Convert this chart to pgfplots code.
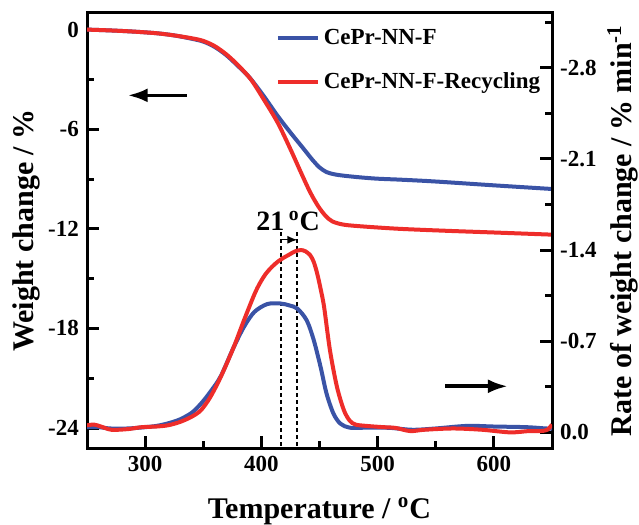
\documentclass[border=0pt]{standalone}
\usepackage{fontspec}
\setmainfont{Liberation Serif}
\usepackage{pgfplots}
\pgfplotsset{compat=1.18}
\usetikzlibrary{arrows.meta}

\definecolor{tgblue}{RGB}{58,83,166}
\definecolor{tgred}{RGB}{238,45,42}

% TG curves (left axis)
\pgfplotstableread{
T w
250 0
270 -0.05
290 -0.12
310 -0.22
325 -0.35
340 -0.55
350 -0.72
360 -1.05
370 -1.55
380 -2.2
390 -2.9
402 -4.0
414 -5.2
425 -6.2
436 -7.15
444 -7.85
450 -8.3
456 -8.58
463 -8.72
471 -8.8
485 -8.9
500 -8.98
520 -9.04
550 -9.15
600 -9.38
650 -9.6
}\tgA
\pgfplotstableread{
T w
250 0
270 -0.05
290 -0.12
310 -0.22
325 -0.35
340 -0.52
350 -0.68
360 -1.0
370 -1.5
380 -2.15
391 -3.0
402 -4.2
414 -5.6
425 -7.2
434 -8.6
442 -9.8
449 -10.65
455 -11.2
461 -11.55
471 -11.75
488 -11.86
519 -12.0
560 -12.12
600 -12.22
650 -12.35
}\tgB
% DTG curves (right axis)
\pgfplotstableread{
T r
250 -0.04
260 -0.04
270 -0.03
285 -0.03
300 -0.04
310 -0.05
320 -0.07
330 -0.10
340 -0.15
348 -0.22
356 -0.31
365 -0.43
376 -0.65
385 -0.81
394 -0.925
405 -0.985
416 -0.99
424 -0.975
431 -0.95
439 -0.86
445 -0.71
451 -0.50
456 -0.30
462 -0.144
468 -0.067
476 -0.036
490 -0.036
510 -0.035
530 -0.02
550 -0.03
577 -0.05
600 -0.045
628 -0.04
645 -0.03
650 -0.03
}\dtgA
\pgfplotstableread{
T r
250 -0.054
256 -0.06
262 -0.045
271 -0.02
285 -0.025
297 -0.04
310 -0.045
320 -0.055
330 -0.08
340 -0.12
348 -0.17
356 -0.27
365 -0.425
376 -0.65
385 -0.86
394 -1.06
399 -1.15
404 -1.22
409 -1.27
414 -1.31
419 -1.34
424 -1.365
429 -1.39
434 -1.40
438 -1.39
442 -1.36
445 -1.31
448 -1.22
451 -1.10
454 -0.96
459 -0.63
465 -0.35
471 -0.17
476 -0.09
481 -0.06
490 -0.05
505 -0.04
515 -0.035
528 -0.01
540 -0.02
565 -0.03
590 -0.02
614 0.0
630 -0.01
640 -0.01
646 -0.02
650 -0.06
}\dtgB

\begin{document}
\begin{tikzpicture}
\pgfplotsset{
  every axis/.append style={
    scale only axis,
    width=232.5pt, height=217.5pt,
    xmin=250, xmax=650,
    line width=1.5pt,
    tick align=inside,
    major tick length=6pt,
    minor tick length=3.5pt,
    tick style={line width=1.5pt, black},
    tick label style={font=\fontsize{11.5}{13}\selectfont\bfseries},
    label style={font=\fontsize{15}{17}\selectfont\bfseries, inner sep=0pt},
    /pgf/number format/assume math mode=true,
  },
}
\begin{axis}[
  name=ax,
  ymin=-25.2, ymax=1.0,
  xtick={300,400,500,600},
  minor xtick={350,450,550},
  ytick={-24,-18,-12,-6,0},
  minor ytick={-21,-15,-9,-3},
  xtick pos=bottom,
  ytick pos=left,
  xlabel={Temperature / \textsuperscript{o}C},
  xlabel style={at={(axis description cs:0.5,-0.161)}, anchor=base},
  ylabel={Weight change / \%},
  ylabel style={at={(axis description cs:-0.131,0.5)}, anchor=center},
  legend style={draw=none, fill=none, at={(0.39,0.985)}, anchor=north west,
    font=\fontsize{11.5}{13}\selectfont\bfseries, row sep=8.5pt},
  legend cell align=left,
  legend image code/.code={\draw[#1] (0pt,0pt) -- (20pt,0pt);},
]
\addplot[tgblue, line width=2pt, smooth] table[x=T, y=w] {\tgA};
\addlegendentry{CePr-NN-F}
\addplot[tgred, line width=2pt, smooth] table[x=T, y=w] {\tgB};
\addlegendentry{CePr-NN-F-Recycling}
% annotations
\draw[line width=1.8pt, -{Latex[length=10pt, width=7pt]}] (axis cs:336,-3.96) -- (axis cs:285,-3.96);
\draw[line width=1pt, dash pattern=on 2pt off 1.5pt] (axis cs:416.5,-12.2) -- (axis cs:416.5,-25.2);
\draw[line width=1pt, dash pattern=on 2pt off 1.5pt] (axis cs:431,-12.2) -- (axis cs:431,-25.2);
\draw[line width=0.7pt, -{Latex[length=5pt, width=4pt]}] (axis cs:416.5,-12.66) -- (axis cs:431,-12.66);
\node[anchor=base, font=\fontsize{14}{16}\selectfont\bfseries, inner sep=0pt] at (axis cs:423,-12.1) {21\,\textsuperscript{o}C};
\end{axis}
\begin{axis}[
  ymin=-3.22, ymax=0.12,
  y dir=reverse,
  axis x line=none,
  axis y line*=right,
  ytick={0,-0.7,-1.4,-2.1,-2.8},
  minor ytick={-0.35,-1.05,-1.75,-2.45,-3.15},
  yticklabel style={/pgf/number format/.cd, fixed, fixed zerofill, precision=1},
  ylabel={Rate of weight change / \% min\textsuperscript{-1}},
  ylabel style={at={(axis description cs:1.152,0.5)}, anchor=center},
]
\addplot[tgblue, line width=2pt, smooth] table[x=T, y=r] {\dtgA};
\addplot[tgred, line width=2pt, smooth] table[x=T, y=r] {\dtgB};
\draw[line width=1.8pt, -{Latex[length=10pt, width=7pt]}] (axis cs:558,-0.354) -- (axis cs:612,-0.354);
\end{axis}
\path ([shift={(-43.5pt,-37.5pt)}]ax.south west) rectangle ([shift={(43.5pt,6.5pt)}]ax.north east);
\end{tikzpicture}
\end{document}
